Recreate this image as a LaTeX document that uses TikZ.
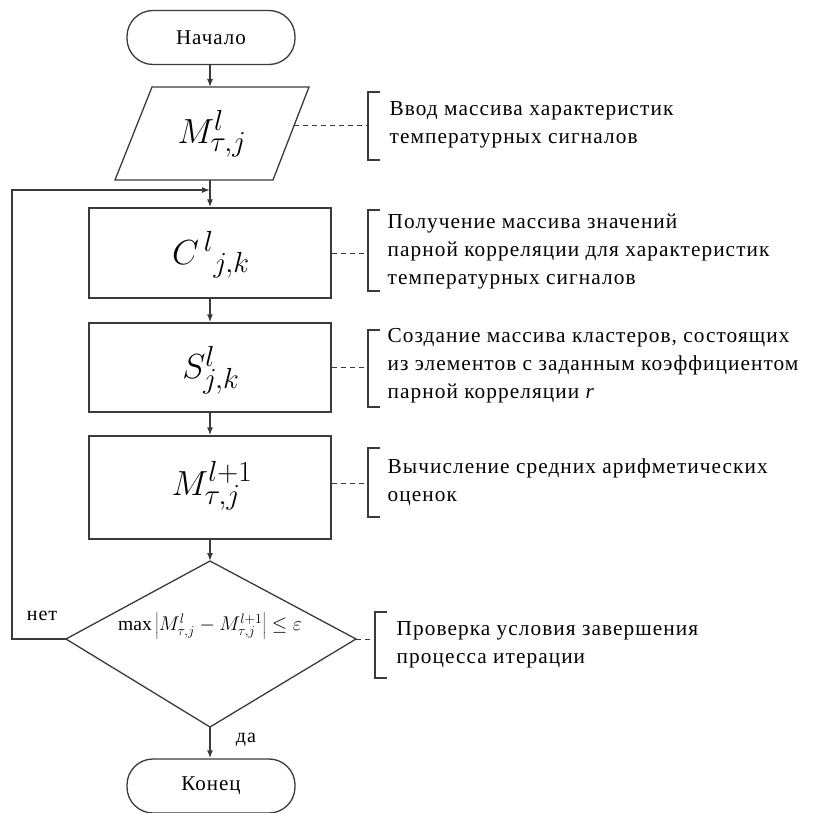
\documentclass[tikz,border=0pt]{standalone}
\usepackage{graphicx}
\usepackage{fontspec}
\setmainfont{Liberation Serif}
\newfontfamily\annfont[LetterSpace=5]{Liberation Serif}
\usetikzlibrary{arrows.meta}
\definecolor{ln}{HTML}{3A3A3A}
\newcommand{\flowmath}[1]{\scalebox{1.4}{\Huge$#1$}}
\begin{document}
\begin{tikzpicture}[x=1pt,y=-1pt,line width=1.3pt,draw=ln,
  term/.style={draw,rounded corners=26pt,minimum width=168pt,minimum height=54pt,inner sep=0pt,font=\annfont\fontsize{21}{24}\selectfont},
  proc/.style={draw,minimum width=242pt,inner sep=0pt},
  bigmath/.style={inner sep=0pt},
  arr/.style={-{Latex[length=8pt,width=6pt]}},
  note/.style={line width=0.9pt,dash pattern=on 5pt off 4pt},
  brk/.style={line width=1.3pt},
  ann/.style={anchor=west,align=left,inner sep=0pt,font=\annfont\fontsize{21.3}{28}\selectfont},
  lbl/.style={inner sep=0pt,font=\annfont\fontsize{20}{24}\selectfont}]
\useasboundingbox (0,0) rectangle (822,813);

% start
\node[term] (start) at (211,37.5) {Начало};

% input parallelogram
\draw (152,87) -- (309,87) -- (273,180) -- (115,180) -- cycle;
\coordinate (inT) at (210,87);
\coordinate (inB) at (210,180);
\coordinate (inR) at (294,125);
\node[bigmath] (in) at (212,134) {\flowmath{M^{l}_{\tau,j}}};

% process boxes
\node[proc,minimum height=90pt] (C) at (210,253) {};
\node[bigmath] (Ct) at (211,255) {\flowmath{C^{\,l}{}_{j,k}}};
\node[proc,minimum height=89pt] (S) at (210,367.5) {};
\node[bigmath] (St) at (211,370) {\flowmath{S^{l}_{j,k}}};
\node[proc,minimum height=103pt] (M) at (210,487.5) {};
\node[bigmath] (Mt) at (212,486) {\flowmath{M^{l+1}_{\tau,j}}};

% decision
\coordinate (dT) at (210,561);
\coordinate (dR) at (356,639);
\coordinate (dB) at (210,727);
\coordinate (dL) at (66,639);
\draw (dT) -- (dR) -- (dB) -- (dL) -- cycle;
\node[inner sep=0pt] (cond) at (210,626)
  {\scalebox{1.15}{\fontsize{17}{20}\selectfont$\max\left|M^{l}_{\tau,j}-M^{l+1}_{\tau,j}\right|\le\varepsilon$}};

% end
\node[term] (stop) at (211,786) {Конец};

% connectors
\draw[arr] (start.south -| inT) -- (inT);
\coordinate (lpA) at (12,639);
\coordinate (lpB) at (12,190);
\coordinate (lpC) at (210,190);
\draw[arr] (inB) -- (C.north);
\draw[arr] (dL) -- (lpA) -- (lpB) -- (lpC);
\draw[arr] (C.south) -- (S.north);
\draw[arr] (S.south) -- (M.north);
\draw[arr] (M.south) -- (dT);
\draw[arr] (dB) -- (stop.north -| dB);

\node[lbl] (no) at (42,616) {нет};
\node[lbl] (yes) at (246,740) {да};

% annotations
\coordinate (b1) at (368,125);
\draw[note] (inR) -- (b1);
\draw[brk] (380,92) -- (368,92) -- (368,160) -- (380,160);
\node[ann] (n1) at (389,125) {Ввод массива характеристик\\температурных сигналов};

\coordinate (b2) at (368,253);
\draw[note] (C.east) -- (b2);
\draw[brk] (380,210) -- (368,210) -- (368,291) -- (380,291);
\node[ann] (n2) at (387,252) {Получение массива значений\\парной корреляции для характеристик\\температурных сигналов};

\coordinate (b3) at (368,367.5);
\draw[note] (S.east) -- (b3);
\draw[brk] (380,330) -- (368,330) -- (368,407) -- (380,407);
\node[ann] (n3) at (387,366) {Создание массива кластеров, состоящих\\из элементов с заданным коэффициентом\\парной корреляции \textit{r}};

\coordinate (b4) at (368,483);
\draw[note] (M.east |- b4) -- (b4);
\draw[brk] (380,448) -- (368,448) -- (368,517) -- (380,517);
\node[ann] (n4) at (387,482) {Вычисление средних арифметических\\оценок};

\coordinate (b5) at (375,639);
\draw[note] (dR) -- (b5);
\draw[brk] (387,612) -- (375,612) -- (375,678) -- (387,678);
\node[ann] (n5) at (396,645) {Проверка условия завершения\\процесса итерации};
\end{tikzpicture}
\end{document}
